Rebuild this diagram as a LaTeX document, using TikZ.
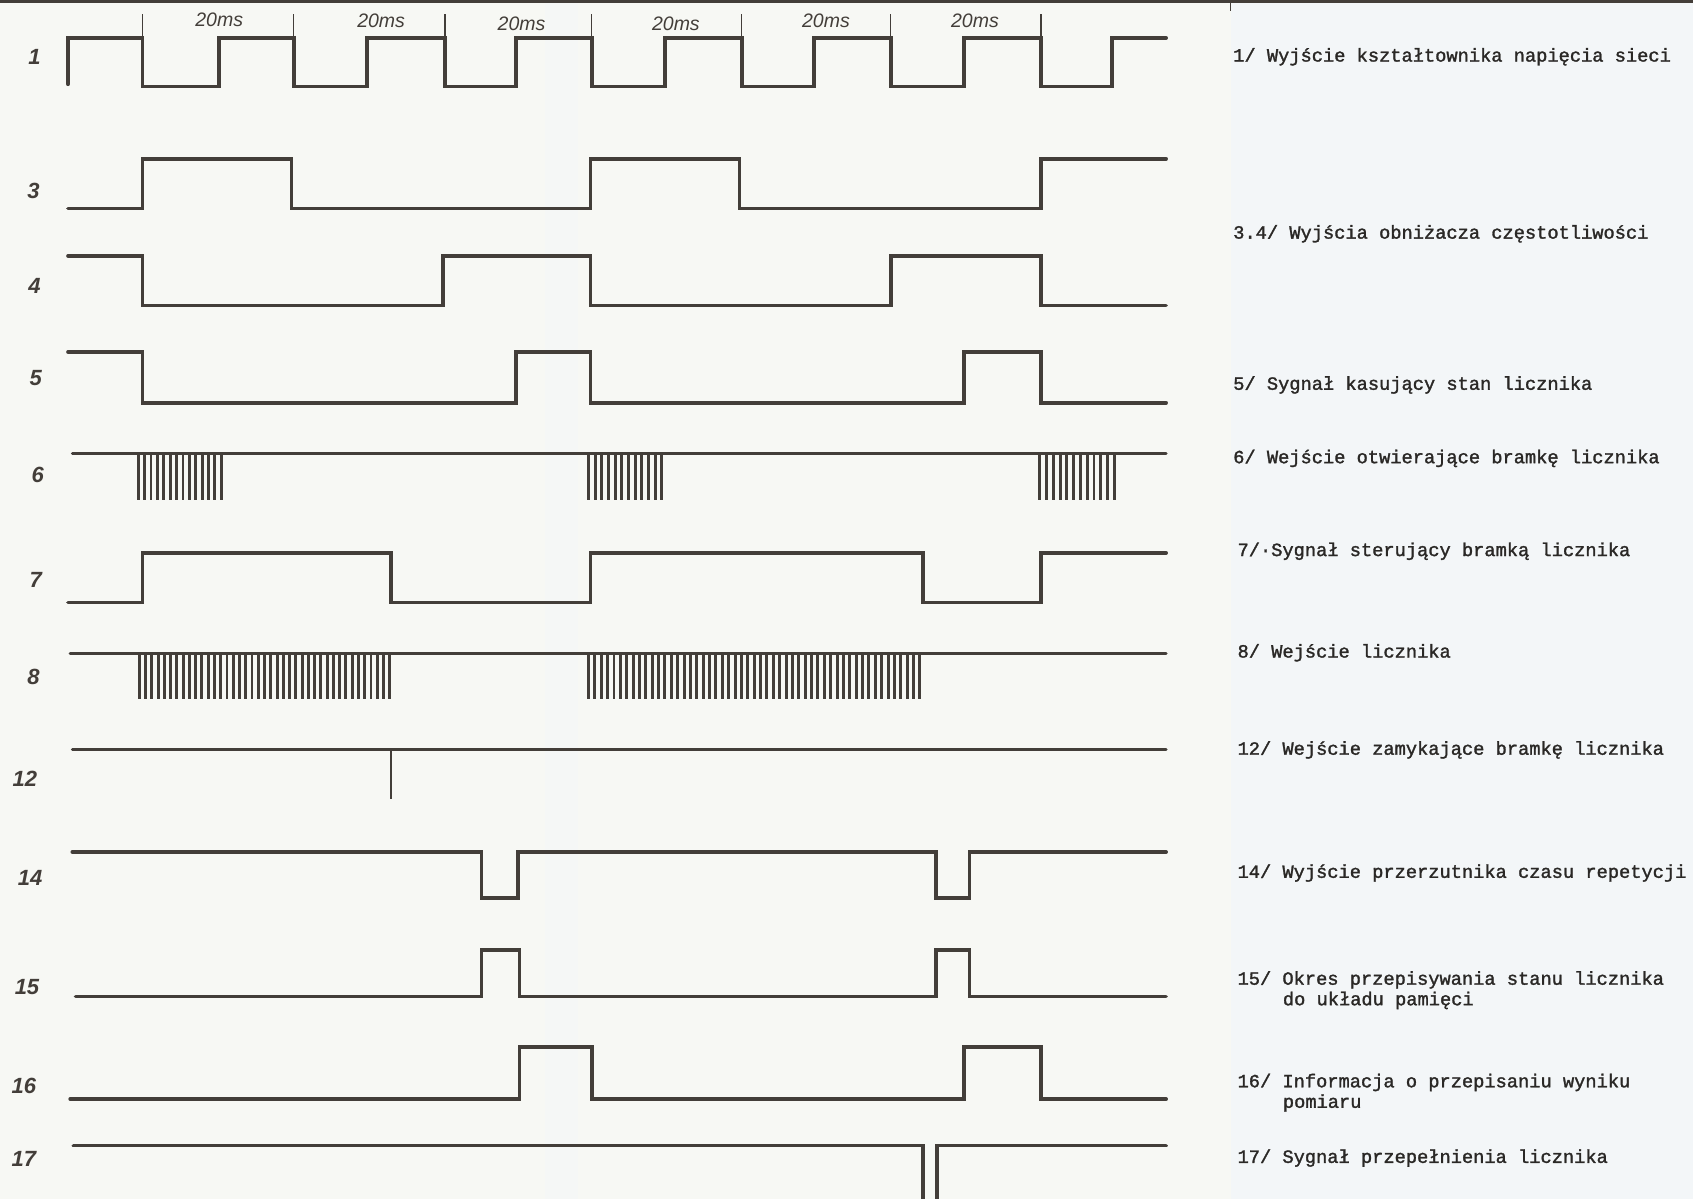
\documentclass[tikz,border=0pt]{standalone}
\usepackage{fontspec}
\setmainfont{Liberation Sans}
\newfontfamily\typew[FakeBold=1.6]{Liberation Mono}
\newfontfamily\handf{Liberation Sans}
\definecolor{paper}{HTML}{F7F8F4}
\definecolor{paperb}{HTML}{F3F6F8}
\definecolor{ink}{HTML}{433E39}
\definecolor{typeink}{HTML}{2A2826}
\tikzset{
  wave/.style={draw=ink, line width=3.7pt, line join=miter, line cap=round},
  pulse/.style={draw=ink, line width=2.9pt},
  tickline/.style={draw=ink, line width=1.4pt},
  numlab/.style={font=\handf\bfseries\itshape\fontsize{22}{24}\selectfont, text=ink, inner sep=0pt},
  mslab/.style={font=\handf\itshape\fontsize{19.5}{21}\selectfont, text=ink, inner sep=0pt},
  desc/.style={font=\typew\fontsize{18.7}{20}\selectfont, text=typeink, inner sep=0pt, anchor=base west}
}
\begin{document}
\begin{tikzpicture}[x=1.0797pt, y=-1.0797pt]
\useasboundingbox (0,0) rectangle (1568,1110);
% paper
\fill[paper] (0,0) rectangle (1568,1110);
\fill[paperb] (1140,0) rectangle (1568,1110);
\fill[paperb!60!paper] (505,0) rectangle (535,1110);
% top frame
\draw[ink, line width=3pt] (0,1) -- (1568,1);
\draw[ink, line width=1.2pt] (1140,0) -- (1140,10);

% time ticks and labels
\foreach \tx in {132,272,412,548,687,825,964}
  \draw[tickline] (\tx,13) -- (\tx,35);
\node[mslab] (ms1) at (203,18) {20ms};
\node[mslab] (ms2) at (353,19) {20ms};
\node[mslab] (ms3) at (483,22) {20ms};
\node[mslab] (ms4) at (626,22) {20ms};
\node[mslab] (ms5) at (765,19) {20ms};
\node[mslab] (ms6) at (903,19) {20ms};

% row labels
\node[numlab] (l1) at (32,53) {1};
\node[numlab] (l3) at (31,177) {3};
\node[numlab] (l4) at (32,265) {4};
\node[numlab] (l5) at (33,350) {5};
\node[numlab] (l6) at (35,440) {6};
\node[numlab] (l7) at (33,537) {7};
\node[numlab] (l8) at (31,627) {8};
\node[numlab] (l12) at (23,721) {12};
\node[numlab] (l14) at (28,813) {14};
\node[numlab] (l15) at (25,914) {15};
\node[numlab] (l16) at (22,1006) {16};
\node[numlab] (l17) at (22,1073) {17};

% 1
\draw[wave] (63,78) |- (132,35) |- (203,80) |- (272,35) |- (340,80) |- (412,35) |- (478,80) |- (548,35) |- (616,80) |- (687,35) |- (754,80) |- (825,35) |- (893,80) |- (964,35) |- (1030,80) |- (1080,35);
% 3
\draw[wave] (63,193) -- (132,193) |- (270,147) |- (547,193) |- (685,147) |- (964,193) |- (1080,147);
% 4
\draw[wave] (63,237) -- (132,237) |- (410,283) |- (547,237) |- (825,283) |- (964,237) |- (1080,283);
% 5
\draw[wave] (63,326) -- (132,326) |- (478,373) |- (547,326) |- (893,373) |- (964,326) |- (1080,373);
% 6
\draw[wave, line width=3pt] (67,420) -- (1080,420);
\foreach \i in {0,...,13} \draw[pulse] ({128+\i*77/13},420) -- ({128+\i*77/13},463);
\foreach \i in {0,...,11} \draw[pulse] ({545+\i*68/11},420) -- ({545+\i*68/11},463);
\foreach \i in {0,...,11} \draw[pulse] ({963+\i*69/11},420) -- ({963+\i*69/11},463);
% 7
\draw[wave] (63,558) -- (132,558) |- (362,512) |- (547,558) |- (855,512) |- (964,558) |- (1080,512);
% 8
\draw[wave, line width=3pt] (65,605) -- (1080,605);
\foreach \i in {0,...,40} \draw[pulse] ({129+\i*232/40},605) -- ({129+\i*232/40},647);
\foreach \i in {0,...,52} \draw[pulse] ({545+\i*307/52},605) -- ({545+\i*307/52},647);
% 12
\draw[wave, line width=3pt] (67,694) -- (1080,694);
\draw[ink, line width=2.2pt] (362,694) -- (362,740);
% 14
\draw[wave] (67,789) -- (446,789) |- (480,832) |- (867,789) |- (898,832) |- (1080,789);
% 15
\draw[wave] (70,923) -- (446,923) |- (481,880) |- (867,923) |- (898,880) |- (1080,923);
% 16
\draw[wave] (65,1018) -- (481,1018) |- (548,970) |- (893,1018) |- (964,970) |- (1080,1018);
% 17
\draw[wave] (68,1061) -- (855,1061) -- (855,1116) -- (868,1116) -- (868,1061) -- (1080,1061);

% descriptions
\node[desc] (d1) at (1142,57) {1/ Wyjście kształtownika napięcia sieci};
\node[desc] (d34) at (1142,221) {3.4/ Wyjścia obniżacza częstotliwości};
\node[desc] (d5) at (1142,361) {5/ Sygnał kasujący stan licznika};
\node[desc] (d6) at (1142,429) {6/ Wejście otwierające bramkę licznika};
\node[desc] (d7) at (1146,515) {7/·Sygnał sterujący bramką licznika};
\node[desc] (d8) at (1146,609) {8/ Wejście licznika};
\node[desc] (d12) at (1146,699) {12/ Wejście zamykające bramkę licznika};
\node[desc] (d14) at (1146,813) {14/ Wyjście przerzutnika czasu repetycji};
\node[desc] (d15) at (1146,912) {15/ Okres przepisywania stanu licznika};
\node[desc] (d15b) at (1188,931) {do układu pamięci};
\node[desc] (d16) at (1146,1007) {16/ Informacja o przepisaniu wyniku};
\node[desc] (d16b) at (1188,1026) {pomiaru};
\node[desc] (d17) at (1146,1077) {17/ Sygnał przepełnienia licznika};
\end{tikzpicture}
\end{document}
